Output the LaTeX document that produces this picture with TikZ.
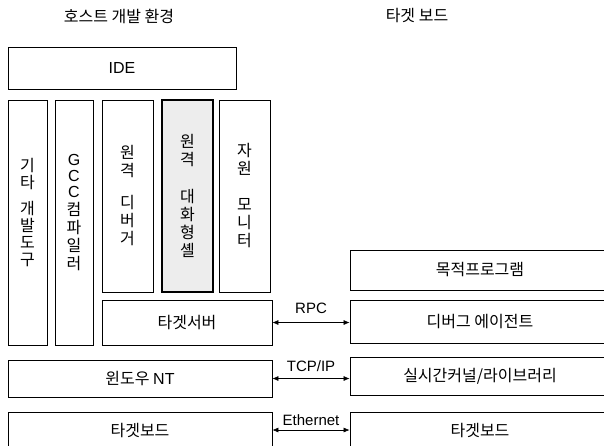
\documentclass[tikz,border=0pt]{standalone}
\usepackage{fontspec}
\setmainfont{Noto Sans CJK KR}
\newfontfamily\lat{Liberation Sans}
\usetikzlibrary{arrows.meta}
\tikzset{
	blk/.style={draw, line width=0.8pt, inner sep=0pt, font=\fontsize{16}{18}\selectfont},
	vblk/.style={blk, align=center, minimum width=51, minimum height=192},
	rblk/.style={blk, minimum width=260},
	link/.style={{Latex[length=6pt,width=5pt]}-{Latex[length=6pt,width=5pt]}, line width=0.6pt},
	lbl/.style={font=\lat\fontsize{15}{17}\selectfont, inner sep=0pt}
}

\begin{document}
\begin{tikzpicture}[x=1pt, y=-1pt]
			%%%%% START %%%%%
			\useasboundingbox (0,0) rectangle (604,445);
			\clip (0,0) rectangle (604,445);
			
			\node[font=\fontsize{16}{18}\selectfont] (hosttitle) at (119,16) {호스트 개발 환경};
			\node[font=\fontsize{16}{18}\selectfont] (boardtitle) at (417,16) {타겟 보드};
			
			%% host side
			\node[blk, minimum width=228, minimum height=42] (ide) at (122,68) {\lat\fontsize{16}{18}\selectfont IDE};
			
			\node[blk, minimum width=39, minimum height=245,
				label={[align=center, yshift=9.5pt, font=\fontsize{16}{17}\selectfont]center:기\\타\\[9pt]개\\발\\도\\구}] (tools) at (27.5,222.5) {};
			\node[blk, minimum width=38, minimum height=245,
				label={[align=center, yshift=10pt, font=\fontsize{16}{18}\selectfont]center:{\lat G}\\[-2pt]{\lat C}\\[-2pt]{\lat C}\\컴\\파\\일\\러}] (gcc) at (74,222.5) {};
			
			\node[vblk] (debugger) at (127.5,196) {원\\격\\[14pt]디\\버\\거};
			\node[vblk, fill=black!7, line width=1.2pt] (shell) at (187.5,196) {원\\격\\[19pt]대\\화\\형\\셸};
			\node[vblk] (monitor) at (244.5,196) {자\\원\\[18pt]모\\니\\터};
			
			\node[blk, minimum width=170, minimum height=45] (server) at (187,322.5) {타겟서버};
			\node[blk, minimum width=264, minimum height=37] (winnt) at (140,378.5) {윈도우 {\lat NT}};
			\node[blk, minimum width=264, minimum height=36] (hostboard) at (140,430) {타겟보드};
			
			%% target side
			\node[rblk, minimum height=40] (app) at (480,270) {목적프로그램};
			\node[rblk, minimum height=43] (agent) at (480,321.5) {디버그 에이전트};
			\node[rblk, minimum height=38] (kernel) at (480,376) {실시간커널/라이브러리};
			\node[rblk, minimum height=36] (board) at (480,430) {타겟보드};
			
			%% links
			\draw[link] (server.east) -- (server.east -| agent.west) node[lbl, midway, above=9pt] {RPC};
			\draw[link] (winnt.east) -- (winnt.east -| kernel.west) node[lbl, midway, above=7pt] {TCP/IP};
			\draw[link] (hostboard.east) -- (hostboard.east -| board.west) node[lbl, midway, above=4pt] {Ethernet};
			
			%%%%% END %%%%%
\end{tikzpicture}
\end{document}
